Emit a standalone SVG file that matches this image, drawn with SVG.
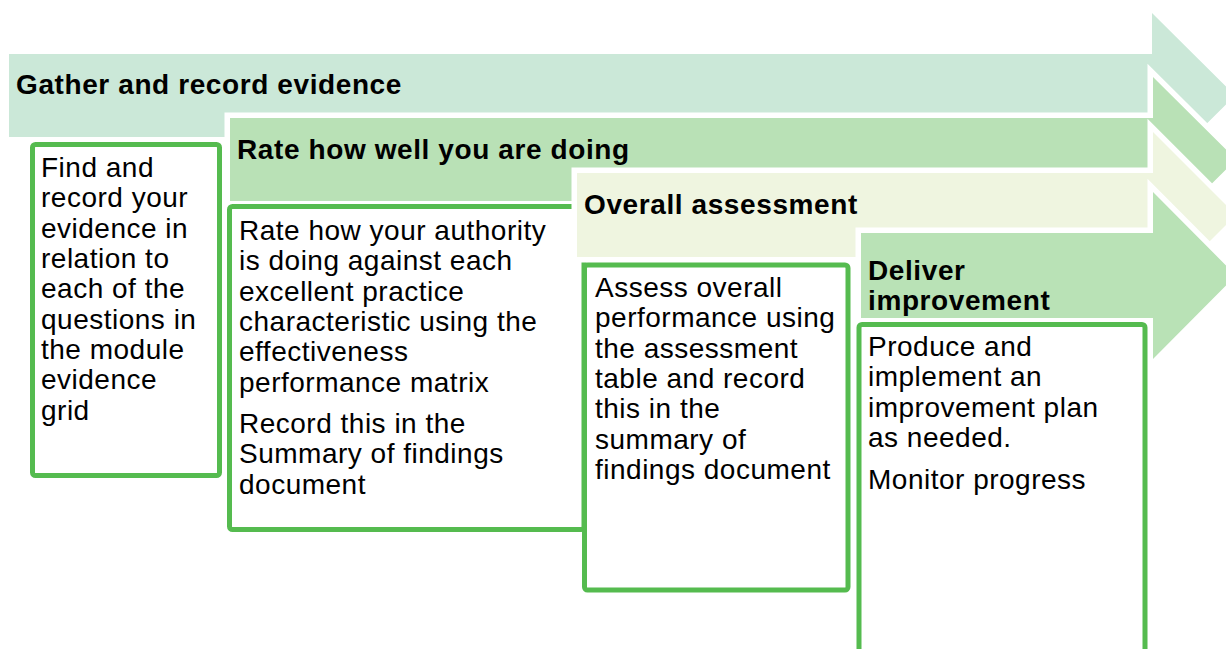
<svg xmlns="http://www.w3.org/2000/svg" width="1226" height="649" viewBox="0 0 1226 649">
<style>
.arrow{stroke:#ffffff;stroke-width:11;stroke-linejoin:miter;paint-order:stroke fill}
.a1{fill:#cbe8d8}
.a2{fill:#b9e1b6}
.a3{fill:#eff5e0}
.a4{fill:#b9e2b6}
.box{fill:#ffffff;stroke:#55bb4f;stroke-width:5}
.hd{font-family:"Liberation Sans",Arial,sans-serif;font-weight:bold;font-size:28px;letter-spacing:0.6px;fill:#000}
.tx{font-family:"Liberation Sans",Arial,sans-serif;font-size:28px;letter-spacing:0.5px;fill:#000}
</style>
<rect width="1226" height="649" fill="#ffffff"/>
<g id="step1">
<polygon class="arrow a1" points="9,54 1152,54 1152,13 1235,95.5 1152,178 1152,137 9,137"/>
<text class="hd" x="16" y="94">Gather and record evidence</text>
</g>
<g id="box1">
<rect class="box" x="32.5" y="144.5" width="187" height="331" rx="3"/>
<text class="tx"><tspan x="41" y="177">Find and</tspan><tspan x="41" y="207.3">record your</tspan><tspan x="41" y="237.6">evidence in</tspan><tspan x="41" y="268">relation to</tspan><tspan x="41" y="298.3">each of the</tspan><tspan x="41" y="328.6">questions in</tspan><tspan x="41" y="359">the module</tspan><tspan x="41" y="389.2">evidence</tspan><tspan x="41" y="419.5">grid</tspan></text>
</g>
<g id="step2">
<polygon class="arrow a2" points="230,118 1153,118 1153,77 1236,159.5 1153,242 1153,201 230,201"/>
<text class="hd" x="237" y="158.5">Rate how well you are doing</text>
</g>
<g id="box2">
<rect class="box" x="229.5" y="206.5" width="354.5" height="323" rx="3"/>
<text class="tx"><tspan x="239" y="240">Rate how your authority</tspan><tspan x="239" y="270.3">is doing against each</tspan><tspan x="239" y="300.6">excellent practice</tspan><tspan x="239" y="331">characteristic using the</tspan><tspan x="239" y="361.2">effectiveness</tspan><tspan x="239" y="391.5">performance matrix</tspan><tspan x="239" y="433">Record this in the</tspan><tspan x="239" y="463.3">Summary of findings</tspan><tspan x="239" y="493.6">document</tspan></text>
</g>
<g id="step3">
<polygon class="arrow a3" points="577,173 1153,173 1153,132 1236,215 1153,298 1153,257 577,257"/>
<text class="hd" x="584" y="214">Overall assessment</text>
</g>
<g id="box3">
<rect class="box" x="584.5" y="265" width="263.5" height="325" rx="3"/>
<text class="tx"><tspan x="595" y="297">Assess overall</tspan><tspan x="595" y="327.3">performance using</tspan><tspan x="595" y="357.6">the assessment</tspan><tspan x="595" y="388">table and record</tspan><tspan x="595" y="418.2">this in the</tspan><tspan x="595" y="448.5">summary of</tspan><tspan x="595" y="479">findings document</tspan></text>
</g>
<g id="step4">
<polygon class="arrow a4" points="861,233 1153,233 1153,192 1236,275.5 1153,359 1153,318 861,318"/>
<text class="hd"><tspan x="868" y="280">Deliver</tspan><tspan x="868" y="310">improvement</tspan></text>
</g>
<g id="box4">
<rect class="box" x="859" y="324.5" width="286" height="360" rx="3"/>
<text class="tx"><tspan x="868" y="356">Produce and</tspan><tspan x="868" y="386">implement an</tspan><tspan x="868" y="416.5">improvement plan</tspan><tspan x="868" y="447">as needed.</tspan><tspan x="868" y="488.5">Monitor progress</tspan></text>
</g>
<g id="connectors"></g>
</svg>
